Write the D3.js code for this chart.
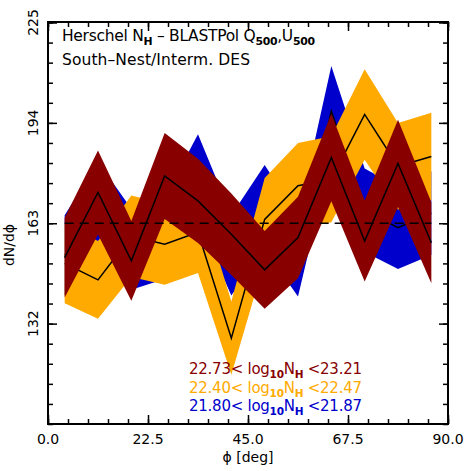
<!DOCTYPE html>
<html>
<head>
<meta charset="utf-8">
<script src="https://cdn.jsdelivr.net/npm/d3@7"></script>
<style>
  body { margin: 0; background: #fff; }
  text { font-family: "DejaVu Sans", sans-serif; }
</style>
</head>
<body>
<div id="chart-area"></div>
<script>

// bin centres (deg)
var phi = [3.75, 11.25, 18.75, 26.25, 33.75, 41.25, 48.75, 56.25, 63.75, 71.25, 78.75, 86.25];

// 22.73 < log N < 23.21
var highVals = [152.4, 172.5, 151.4, 177.6, 169.9, 159.6, 148.6, 158.6, 183.3, 157.5, 181.5, 157.0];
var highErr  = [12.3, 13.0, 12.3, 13.3, 13.0, 12.6, 12.0, 12.6, 13.5, 12.5, 13.5, 12.5];
// 22.40 < log N < 22.47
var midVals = [150.6, 145.5, 159.0, 156.5, 160.2, 127.5, 164.2, 174.6, 176.6, 196.6, 180.6, 183.6];
var midErr  = [12.3, 12.0, 12.6, 12.5, 12.6, 11.3, 12.8, 13.2, 13.3, 14.0, 13.4, 13.5];
// 21.80 < log N < 21.87
var lowVals = [153.1, 169.0, 155.0, 158.4, 177.2, 153.1, 168.0, 152.8, 197.6, 167.0, 161.6, 166.1];
var lowErr  = [12.4, 13.0, 12.5, 12.6, 13.3, 12.4, 13.0, 12.4, 14.0, 12.9, 12.7, 12.9];

var meanLevel = 163;

var xTicks = [0, 22.5, 45, 67.5, 90];
var xLabels = ["0.0", "22.5", "45.0", "67.5", "90.0"];
var yTicks = [132, 163, 194, 225];
var yLabels = ["132", "163", "194", "225"];

var margin = { top: 22, right: 23, bottom: 47, left: 48 },
    width = 471 - margin.left - margin.right,
    height = 471 - margin.top - margin.bottom;

var svg = d3.select("#chart-area")
    .append("svg")
    .attr("width", 471)
    .attr("height", 471)
    .append("g")
    .attr("transform", "translate(" + margin.left + "," + margin.top + ")");

var xScale = d3.scaleLinear().domain([0, 90]).range([0, width]);
var yScale = d3.scaleLinear().domain([101, 225]).range([height, 0.5]);

var series = [
    { vals: lowVals, err: lowErr, color: "#0000cc" },
    { vals: midVals, err: midErr, color: "#ffaa00" },
    { vals: highVals, err: highErr, color: "#880000" }
];

var area = d3.area()
    .x(function(d) { return xScale(d.x); })
    .y0(function(d) { return yScale(d.v - d.e); })
    .y1(function(d) { return yScale(d.v + d.e); });

var line = d3.line()
    .x(function(d) { return xScale(d.x); })
    .y(function(d) { return yScale(d.v); });

series.forEach(function(s) {
    var pts = phi.map(function(p, i) { return { x: p, v: s.vals[i], e: s.err[i] }; });
    svg.append("path")
        .attr("d", area(pts))
        .attr("fill", s.color);
    svg.append("path")
        .attr("d", line(pts))
        .attr("fill", "none")
        .attr("stroke", "black")
        .attr("stroke-width", 1.5);
});

svg.append("line")
    .attr("x1", xScale(phi[0]))
    .attr("x2", xScale(phi[phi.length - 1]))
    .attr("y1", yScale(meanLevel))
    .attr("y2", yScale(meanLevel))
    .attr("stroke", "black")
    .attr("stroke-width", 1.5)
    .attr("stroke-dasharray", "9,6");

// ticks, all pointing inward
var xMinor = d3.range(0, 90.01, 4.5);
var yMinor = d3.range(101, 225.01, 6.2);

function tickAxis(axisFn, scale, values, size) {
    return axisFn(scale).tickValues(values).tickSize(-size).tickFormat("");
}

[[xMinor, 5], [xTicks, 9]].forEach(function(t) {
    svg.append("g").attr("transform", "translate(0," + height + ")")
        .call(tickAxis(d3.axisBottom, xScale, t[0], t[1]));
    svg.append("g")
        .call(tickAxis(d3.axisTop, xScale, t[0], t[1]));
});
[[yMinor, 5], [yTicks, 9]].forEach(function(t) {
    svg.append("g")
        .call(tickAxis(d3.axisLeft, yScale, t[0], t[1]));
    svg.append("g").attr("transform", "translate(" + width + ",0)")
        .call(tickAxis(d3.axisRight, yScale, t[0], t[1]));
});

svg.selectAll(".tick line").attr("stroke", "black").attr("stroke-width", 1.5);
svg.selectAll(".tick text").remove();
svg.selectAll(".domain").remove();

svg.append("rect")
    .attr("width", width)
    .attr("height", height)
    .attr("fill", "none")
    .attr("stroke", "black")
    .attr("stroke-width", 2);

// tick labels
svg.selectAll(".xlab")
    .data(xTicks)
    .enter().append("text")
    .attr("x", function(d) { return xScale(d); })
    .attr("y", height + 20)
    .attr("text-anchor", "middle")
    .style("font-size", "14px")
    .text(function(d, i) { return xLabels[i]; });

svg.selectAll(".ylab")
    .data(yTicks)
    .enter().append("text")
    .attr("transform", function(d) { return "translate(-10," + yScale(d) + ") rotate(-90)"; })
    .attr("text-anchor", "middle")
    .style("font-size", "14px")
    .text(function(d, i) { return yLabels[i]; });

svg.append("text")
    .attr("x", width / 2)
    .attr("y", height + 38)
    .attr("text-anchor", "middle")
    .style("font-size", "14px")
    .text("\u03d5 [deg]");

svg.append("text")
    .attr("transform", "translate(-34," + (height / 2 + 22) + ") rotate(-90)")
    .attr("text-anchor", "middle")
    .style("font-size", "14px")
    .text("dN/d\u03d5");

// text with subscripts, stretched to the width seen in the reference
function subText(g, x, y, parts, color, size, len) {
    var t = g.append("text")
        .attr("x", x)
        .attr("y", y)
        .attr("fill", color)
        .attr("textLength", len)
        .attr("lengthAdjust", "spacing")
        .style("font-size", size + "px");
    var down = false;
    parts.forEach(function(p) {
        var ts = t.append("tspan");
        if (p.sub) {
            ts.attr("dy", down ? 0 : 4)
                .style("font-size", (size * 0.7) + "px")
                .style("font-weight", "bold")
                .text(p.sub);
            down = true;
        } else {
            ts.attr("dy", down ? -4 : 0).text(p.t);
            down = false;
        }
    });
    return t;
}

subText(svg, 14, 19, [
    { t: "Herschel N" }, { sub: "H" }, { t: " \u2013 BLASTPol Q" }, { sub: "500" },
    { t: ",U" }, { sub: "500" }
], "black", 15.5, 253);
subText(svg, 14, 43, [{ t: "South\u2013Nest/Interm. DES" }], "black", 15.5, 188);

// bin legend
var legend = [
    { lo: "22.73", hi: "23.21", color: "#880000" },
    { lo: "22.40", hi: "22.47", color: "#ffaa00" },
    { lo: "21.80", hi: "21.87", color: "#0000cc" }
];
legend.forEach(function(l, i) {
    subText(svg, 141, 352 + i * 18.5, [
        { t: l.lo + "< log" }, { sub: "10" }, { t: "N" }, { sub: "H" }, { t: " <" + l.hi }
    ], l.color, 15, 173);
});

</script>
</body>
</html>
